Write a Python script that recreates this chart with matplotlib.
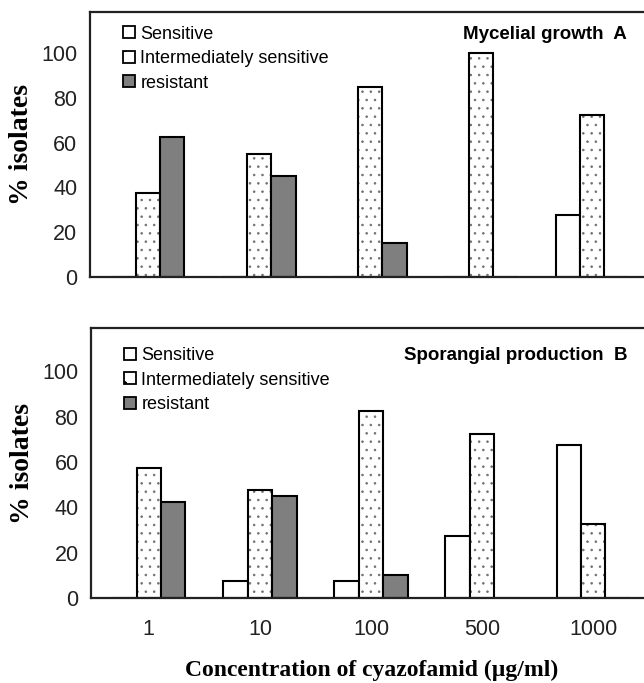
import matplotlib
matplotlib.use("Agg")
import matplotlib.pyplot as plt
import numpy as np

categories = ["1", "10", "100", "500", "1000"]
series_names = ["Sensitive", "Intermediately sensitive", "resistant"]

a_sensitive = [0, 0, 0, 0, 27.5]
a_intermediate = [37.5, 55, 85, 100, 72.5]
a_resistant = [62.5, 45, 15, 0, 0]

b_sensitive = [0, 7.5, 7.5, 27.5, 67.5]
b_intermediate = [57.5, 47.5, 82.5, 72.5, 32.5]
b_resistant = [42.5, 45, 10, 0, 0]

yticks = [0, 20, 40, 60, 80, 100]

plt.rcParams['hatch.linewidth'] = 0.6
plt.rcParams['font.family'] = ['Liberation Sans', 'DejaVu Sans']

fig = plt.figure(figsize=(6.44, 6.83), dpi=100)

W, H = 644, 683
def rect(left, right, top, bottom):
    return [left / W, (H - bottom) / H, (right - left) / W, (bottom - top) / H]

ax_a = fig.add_axes(rect(90, 650, 12, 277))
ax_b = fig.add_axes(rect(91, 651, 328, 598))

styles = [
    dict(facecolor="white", hatch=None),
    dict(facecolor="white", hatch=".."),
    dict(facecolor="#7f7f7f", hatch=None),
]

def draw(ax, data, title, ytop, show_x, leg_y, title_y):
    x = np.arange(len(categories))
    w = 0.22
    for i, (vals, st) in enumerate(zip(data, styles)):
        pos = x + (i - 1) * w
        if st["hatch"]:
            # hatch layer in grey, then black outline on top
            ax.bar(pos, vals, width=w, facecolor=st["facecolor"],
                   edgecolor="#707070", linewidth=0, hatch=st["hatch"])
            ax.bar(pos, vals, width=w, fill=False, edgecolor="black",
                   linewidth=1.5)
        else:
            ax.bar(pos, vals, width=w, facecolor=st["facecolor"],
                   edgecolor="black", linewidth=1.5)
    # legend proxies
    from matplotlib.patches import Patch
    handles = [Patch(facecolor=st["facecolor"], edgecolor="black",
                     hatch=("." if st["hatch"] else None), linewidth=1.3,
                     label=series_names[i]) for i, st in enumerate(styles)]
    ax.set_xlim(-0.52, 4.52)
    ax.set_ylim(0, ytop)
    ax.set_yticks(yticks)
    ax.tick_params(axis='y', length=0, labelsize=15.5, pad=9, colors="#222222")
    for s in ["top", "left", "right", "bottom"]:
        ax.spines[s].set_linewidth(1.6)
        ax.spines[s].set_color("#222222")
    if show_x:
        ax.set_xticks(x)
        ax.set_xticklabels(categories)
        ax.tick_params(axis='x', length=0, labelsize=15.5, pad=15, colors="#222222")
    else:
        ax.set_xticks([])
    ax.set_ylabel("% isolates", family=["Liberation Serif", "DejaVu Serif"],
                  fontweight="bold", fontsize=20, labelpad=5)
    ax.legend(handles=handles, loc="upper left", bbox_to_anchor=(0.035, leg_y),
              frameon=False, fontsize=13, handlelength=0.65, handleheight=0.65,
              handletextpad=0.3, labelspacing=0.42, borderaxespad=0.35)
    ax.text(0.958, title_y, title, transform=ax.transAxes, ha="right", va="center",
            fontsize=13.5, fontweight="bold")

draw(ax_a, [a_sensitive, a_intermediate, a_resistant], "Mycelial growth  A",
     118.3, False, 1.0, 0.915)
draw(ax_b, [b_sensitive, b_intermediate, b_resistant], "Sporangial production  B",
     119.1, True, 0.98, 0.9)

fig.text(372 / W, 1 - 670 / H, "Concentration of cyazofamid (\u00b5g/ml)",
         family=["Liberation Serif", "DejaVu Serif"], fontweight="bold",
         fontsize=17, ha="center", va="center")

fig.savefig("out.png", dpi=100)
